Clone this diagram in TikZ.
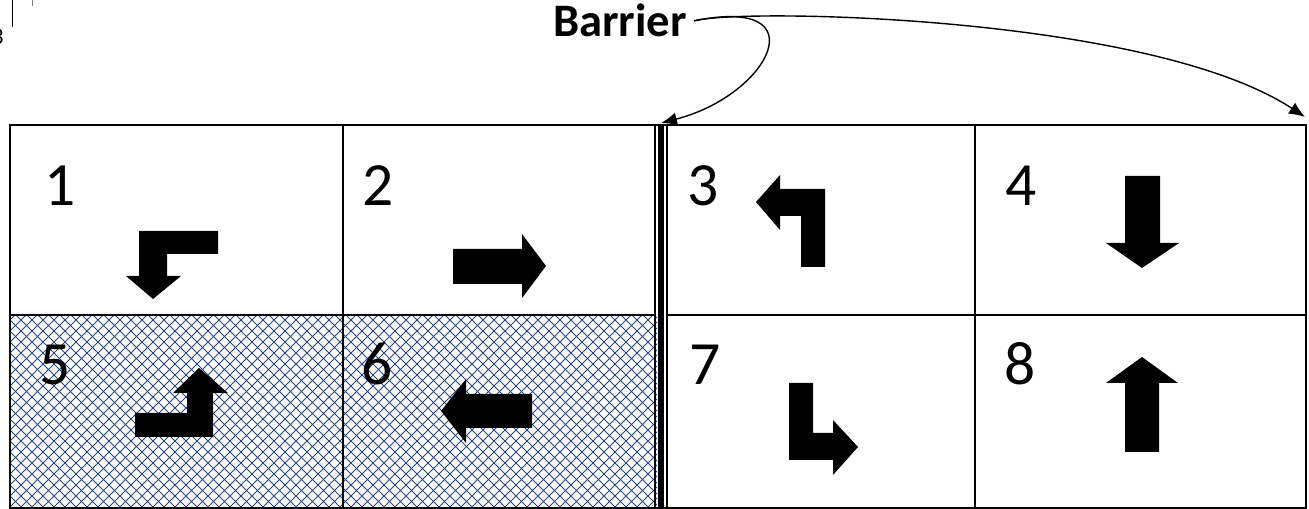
\documentclass[tikz,border=0pt]{standalone}
\usepackage{fontspec}
\setmainfont{Carlito}
\usepackage{xcolor}
\usetikzlibrary{arrows.meta}
\definecolor{hatchblue}{RGB}{38,68,128}

\begin{document}
\begin{tikzpicture}[
	x=0.02cm, y=-0.02cm,
	grid/.style={line width=1.1pt},
	wall/.style={line width=3pt},
	hatch/.style={line width=0.5pt, draw=hatchblue},
	blk/.style={fill=black},
	num/.style={font=\fontsize{35}{40}\selectfont, anchor=base, inner sep=0pt},
	arrow/.style={line width=0.8pt, -{Latex[length=3.2mm,width=2.6mm]}},
]
	\useasboundingbox (0,0) rectangle (1309,509);

	% crosshatched lower-left cells
	\begin{scope}
		\clip (10,315) rectangle (657,508);
		\foreach \x in {-200,-189,...,660} {
			\draw[hatch] (\x,508) -- ++(200,-200);
			\draw[hatch] (\x,308) -- ++(200,200);
		}
	\end{scope}

	% grid
	\draw[grid] (10,125) rectangle (1306,508);
	\draw[grid] (343,125) -- (343,508);
	\draw[grid] (975,125) -- (975,508);
	\draw[grid] (10,315) -- (655,315);
	\draw[grid] (667,315) -- (1306,315);
	\draw[grid] (655,125) -- (655,508);
	\draw[grid] (667,125) -- (667,508);
	\draw[wall] (661,125) -- (661,508);

	\node (n1) [num] at (60,206) {1};
	\node (n2) [num] at (378,206) {2};
	\node (n3) [num] at (703,206) {3};
	\node (n4) [num] at (1021,206) {4};
	\node (n5) [num] at (55,385) {5};
	\node (n6) [num] at (377,385) {6};
	\node (n7) [num] at (705,385) {7};
	\node (n8) [num] at (1020,385) {8};

	% moves
	\fill[blk] (218,231) -- (139,231) -- (139,276) -- (126,276) -- (153,299) -- (181,276) -- (167,276) -- (167,254) -- (218,254) -- cycle;
	\fill[blk] (453,249) -- (522,249) -- (522,234) -- (546,266) -- (522,298) -- (522,284) -- (453,284) -- cycle;
	\fill[blk] (756,202) -- (780,175) -- (780,189) -- (825,189) -- (825,267) -- (801,267) -- (801,216) -- (780,216) -- (780,230) -- cycle;
	\fill[blk] (1125,176) -- (1160,176) -- (1160,243) -- (1179,243) -- (1142,268) -- (1106,243) -- (1125,243) -- cycle;
	\fill[blk] (135,413) -- (187,413) -- (187,393) -- (173,393) -- (199,368) -- (228,393) -- (213,393) -- (213,437) -- (135,437) -- cycle;
	\fill[blk] (532,394) -- (466,394) -- (466,379) -- (441,411) -- (466,443) -- (466,428) -- (532,428) -- cycle;
	\fill[blk] (789,383) -- (813,383) -- (813,433) -- (833,433) -- (833,420) -- (858,447) -- (833,475) -- (833,460) -- (789,460) -- cycle;
	\fill[blk] (1125,452) -- (1159,452) -- (1159,383) -- (1178,383) -- (1142,357) -- (1106,383) -- (1125,383) -- cycle;

	\node (bar) [font=\bfseries\fontsize{26.5}{30}\selectfont, anchor=base, inner sep=4pt] at (620,37) {Barrier};
	\coordinate (gap) at (661,123);
	\coordinate (rim) at (1305,117);
	\draw[arrow] (bar.east) .. controls (820,-5) and (770,95) .. (gap);
	\draw[arrow] (bar.east) .. controls (740,8) and (1150,15) .. (rim);

	% leftovers at the top left
	\draw[line width=0.8pt] (12.5,0) -- (12.5,27);
	\draw[line width=0.4pt, gray] (32,0) -- (32,6);
	\node (edge3) [anchor=base east, inner sep=0pt, font=\fontsize{13.5}{16}\selectfont] at (4,45) {3};
\end{tikzpicture}
\end{document}
